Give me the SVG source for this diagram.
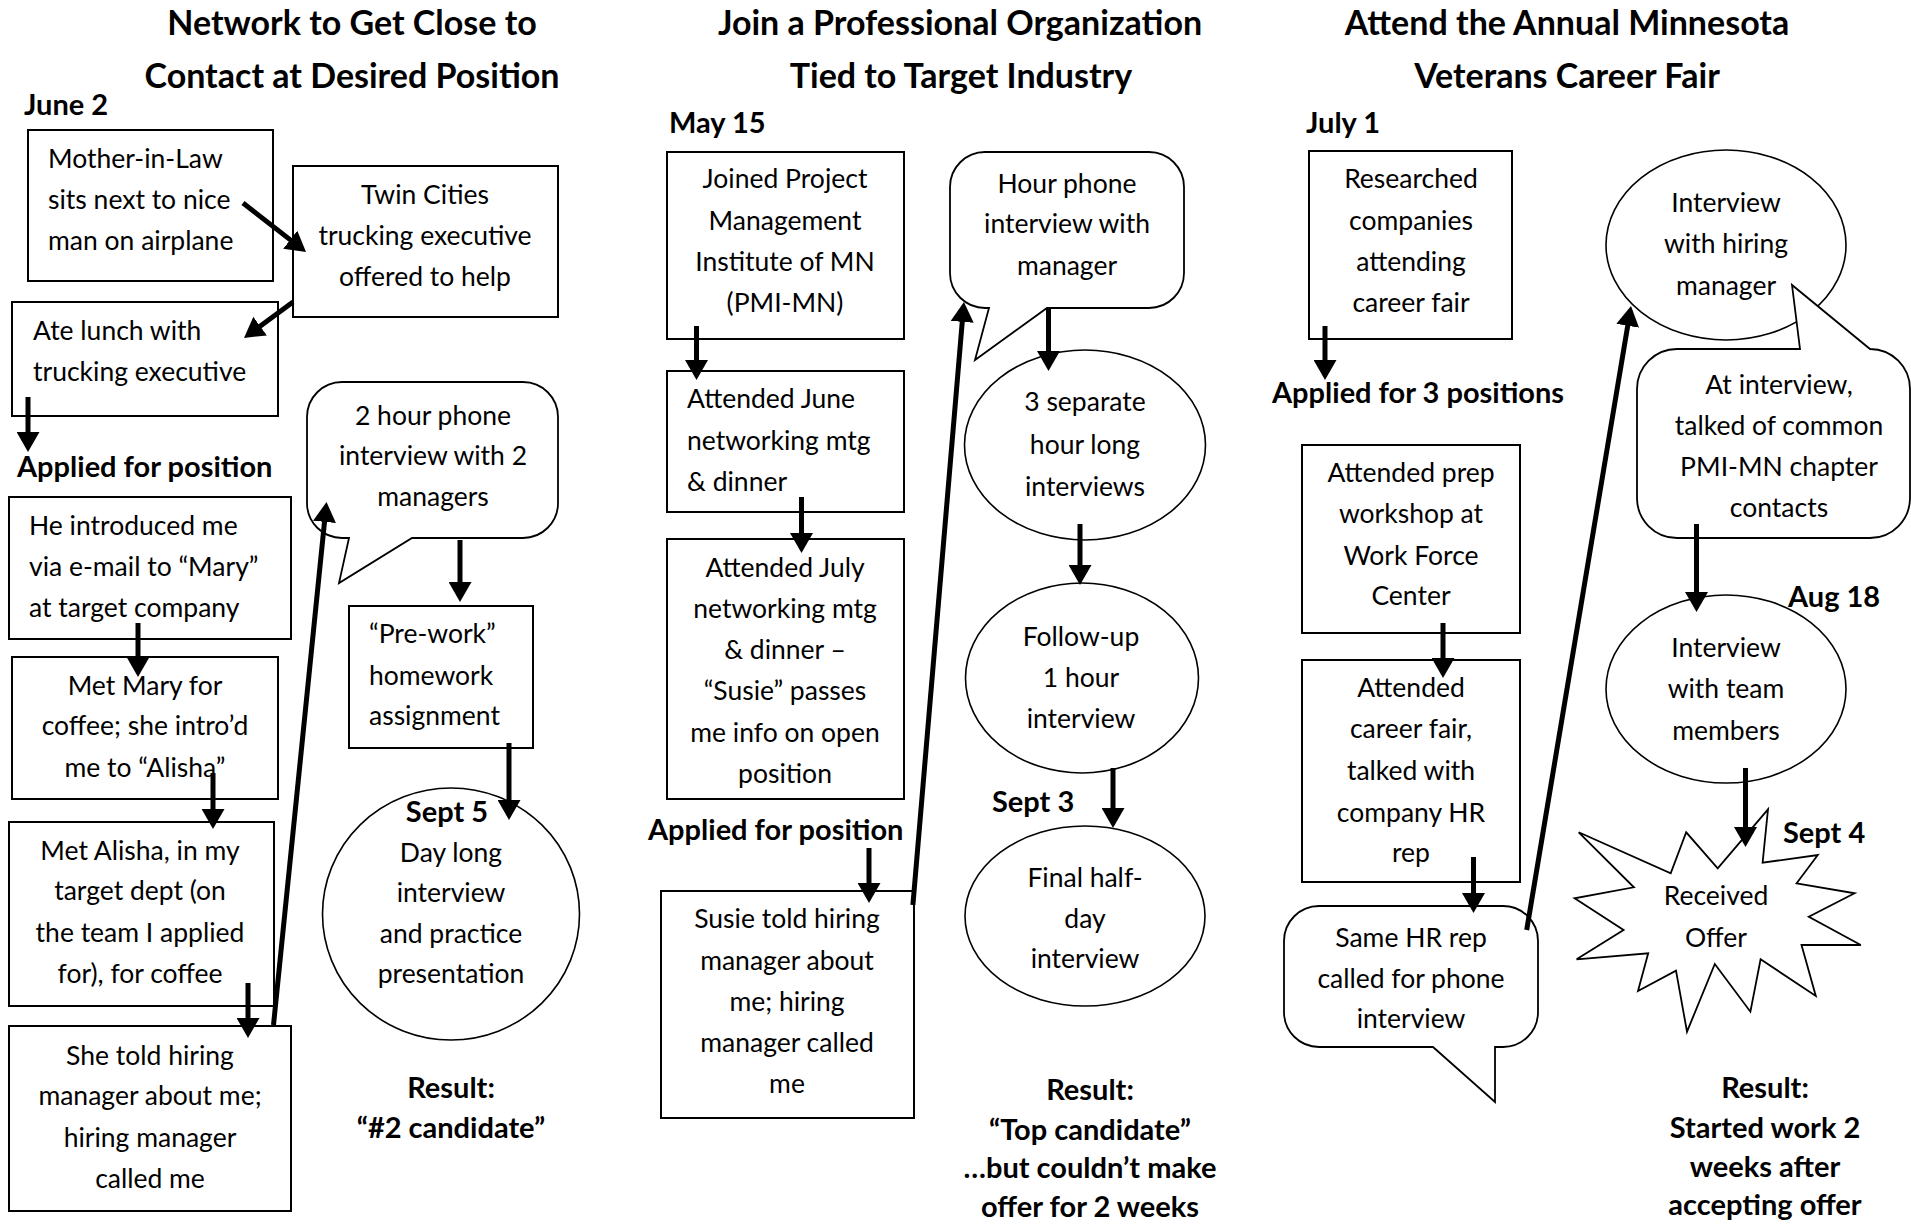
<svg xmlns="http://www.w3.org/2000/svg" width="1911" height="1225" viewBox="0 0 1911 1225">
<defs>
<marker id="ah" markerUnits="userSpaceOnUse" markerWidth="20" markerHeight="23" viewBox="0 0 20 23" refX="3" refY="11.5" orient="auto">
<path d="M0,0 L20,11.5 L0,23 Z" fill="#000"/>
</marker>
<style>
text{font-family:Lato,"Open Sans","Liberation Sans",sans-serif;fill:#000}
.t{font-size:26.5px}
.c{text-anchor:middle}
.h{font-size:34px;font-weight:bold;text-anchor:middle}
.b{font-size:29px;font-weight:bold}
.box{fill:#fff;stroke:#000;stroke-width:2}
.ell{fill:#fff;stroke:#000;stroke-width:1.6}
.co{fill:#fff;stroke:#000;stroke-width:1.8}
.arr{stroke:#000;stroke-width:5;fill:none;marker-end:url(#ah)}
</style>
</defs>
<rect width="1911" height="1225" fill="#fff"/>

<g id="titles">
<text class="h" x="352" y="35">Network to Get Close to</text>
<text class="h" x="352" y="88">Contact at Desired Position</text>
<text class="h" x="960" y="35">Join a Professional Organization</text>
<text class="h" x="961" y="88">Tied to Target Industry</text>
<text class="h" x="1567" y="35">Attend the Annual Minnesota</text>
<text class="h" x="1567" y="88">Veterans Career Fair</text>
</g>

<g id="labels">
<text class="b" x="24" y="115">June 2</text>
<text class="b" x="17" y="477">Applied for position</text>
<text class="b" x="669" y="133">May 15</text>
<text class="b" x="648" y="840">Applied for position</text>
<text class="b" x="992" y="812">Sept 3</text>
<text class="b" x="1306" y="133">July 1</text>
<text class="b" x="1272" y="403">Applied for 3 positions</text>
<text class="b" x="1788" y="607">Aug 18</text>
<text class="b" x="1783" y="843">Sept 4</text>
</g>

<g id="results">
<text class="b c" x="451" y="1098">Result:</text>
<text class="b c" x="451" y="1138">“#2 candidate”</text>
<text class="b c" x="1090" y="1100">Result:</text>
<text class="b c" x="1090" y="1140">“Top candidate”</text>
<text class="b c" x="1090" y="1178">…but couldn’t make</text>
<text class="b c" x="1090" y="1217">offer for 2 weeks</text>
<text class="b c" x="1765" y="1098">Result:</text>
<text class="b c" x="1765" y="1138">Started work 2</text>
<text class="b c" x="1765" y="1177">weeks after</text>
<text class="b c" x="1765" y="1215">accepting offer</text>
</g>

<!-- Left column -->
<g id="n-mil">
<rect class="box" x="28" y="130" width="245" height="151"/>
<text class="t" x="48" y="168">Mother-in-Law</text>
<text class="t" x="48" y="209">sits next to nice</text>
<text class="t" x="48" y="250">man on airplane</text>
</g>
<g id="n-twin">
<rect class="box" x="293" y="166" width="265" height="151"/>
<text class="t c" x="425" y="204">Twin Cities</text>
<text class="t c" x="425" y="245">trucking executive</text>
<text class="t c" x="425" y="286">offered to help</text>
</g>
<g id="n-lunch">
<rect class="box" x="12" y="302" width="266" height="114"/>
<text class="t" x="33" y="340">Ate lunch with</text>
<text class="t" x="33" y="381">trucking executive</text>
</g>
<g id="n-intro">
<rect class="box" x="9" y="497" width="282" height="142"/>
<text class="t" x="29" y="535">He introduced me</text>
<text class="t" x="29" y="576">via e-mail to “Mary”</text>
<text class="t" x="29" y="617">at target company</text>
</g>
<g id="n-mary">
<rect class="box" x="12" y="657" width="266" height="142"/>
<text class="t c" x="145" y="695">Met Mary for</text>
<text class="t c" x="145" y="735">coffee; she intro’d</text>
<text class="t c" x="145" y="777">me to “Alisha”</text>
</g>
<g id="n-alisha">
<rect class="box" x="9" y="822" width="265" height="184"/>
<text class="t c" x="140" y="860">Met Alisha, in my</text>
<text class="t c" x="140" y="900">target dept (on</text>
<text class="t c" x="140" y="942">the team I applied</text>
<text class="t c" x="140" y="983">for), for coffee</text>
</g>
<g id="n-she">
<rect class="box" x="9" y="1026" width="282" height="185"/>
<text class="t c" x="150" y="1065">She told hiring</text>
<text class="t c" x="150" y="1105">manager about me;</text>
<text class="t c" x="150" y="1147">hiring manager</text>
<text class="t c" x="150" y="1188">called me</text>
</g>
<g id="n-phone2">
<path class="co" d="M342,382 H523 A35,35 0 0 1 558,417 V503 A35,35 0 0 1 523,538 H412 L339,583 L349,538 H342 A35,35 0 0 1 307,503 V417 A35,35 0 0 1 342,382 Z"/>
<text class="t c" x="433" y="425">2 hour phone</text>
<text class="t c" x="433" y="465">interview with 2</text>
<text class="t c" x="433" y="506">managers</text>
</g>
<g id="n-prework">
<rect class="box" x="349" y="606" width="184" height="142"/>
<text class="t" x="369" y="643">“Pre-work”</text>
<text class="t" x="369" y="685">homework</text>
<text class="t" x="369" y="725">assignment</text>
</g>
<g id="n-sept5">
<ellipse class="ell" cx="451" cy="914" rx="128.5" ry="126"/>
<text class="b c" x="447" y="822">Sept 5</text>
<text class="t c" x="451" y="862">Day long</text>
<text class="t c" x="451" y="902">interview</text>
<text class="t c" x="451" y="943">and practice</text>
<text class="t c" x="451" y="983">presentation</text>
</g>

<!-- Middle column -->
<g id="n-joined">
<rect class="box" x="667" y="152" width="237" height="187"/>
<text class="t c" x="785" y="188">Joined Project</text>
<text class="t c" x="785" y="230">Management</text>
<text class="t c" x="785" y="271">Institute of MN</text>
<text class="t c" x="785" y="312">(PMI-MN)</text>
</g>
<g id="n-june">
<rect class="box" x="667" y="371" width="237" height="141"/>
<text class="t" x="687" y="408">Attended June</text>
<text class="t" x="687" y="450">networking mtg</text>
<text class="t" x="687" y="491">&amp; dinner</text>
</g>
<g id="n-july">
<rect class="box" x="667" y="539" width="237" height="260"/>
<text class="t c" x="785" y="577">Attended July</text>
<text class="t c" x="785" y="618">networking mtg</text>
<text class="t c" x="785" y="659">&amp; dinner –</text>
<text class="t c" x="785" y="700">“Susie” passes</text>
<text class="t c" x="785" y="742">me info on open</text>
<text class="t c" x="785" y="783">position</text>
</g>
<g id="n-susie">
<rect class="box" x="661" y="891" width="253" height="227"/>
<text class="t c" x="787" y="928">Susie told hiring</text>
<text class="t c" x="787" y="970">manager about</text>
<text class="t c" x="787" y="1011">me; hiring</text>
<text class="t c" x="787" y="1052">manager called</text>
<text class="t c" x="787" y="1093">me</text>
</g>
<g id="n-hourphone">
<path class="co" d="M985,152 H1149 A35,35 0 0 1 1184,187 V273 A35,35 0 0 1 1149,308 H1047 L975,360 L989,308 H985 A35,35 0 0 1 950,273 V187 A35,35 0 0 1 985,152 Z"/>
<text class="t c" x="1067" y="193">Hour phone</text>
<text class="t c" x="1067" y="233">interview with</text>
<text class="t c" x="1067" y="275">manager</text>
</g>
<g id="n-3sep">
<ellipse class="ell" cx="1085" cy="445" rx="120.5" ry="95"/>
<text class="t c" x="1085" y="411">3 separate</text>
<text class="t c" x="1085" y="454">hour long</text>
<text class="t c" x="1085" y="496">interviews</text>
</g>
<g id="n-followup">
<ellipse class="ell" cx="1082" cy="678" rx="116.5" ry="95"/>
<text class="t c" x="1081" y="646">Follow-up</text>
<text class="t c" x="1081" y="687">1 hour</text>
<text class="t c" x="1081" y="728">interview</text>
</g>
<g id="n-final">
<ellipse class="ell" cx="1085" cy="916" rx="120" ry="90"/>
<text class="t c" x="1085" y="887">Final half-</text>
<text class="t c" x="1085" y="928">day</text>
<text class="t c" x="1085" y="968">interview</text>
</g>

<!-- Right column -->
<g id="n-research">
<rect class="box" x="1309" y="151" width="203" height="188"/>
<text class="t c" x="1411" y="188">Researched</text>
<text class="t c" x="1411" y="230">companies</text>
<text class="t c" x="1411" y="271">attending</text>
<text class="t c" x="1411" y="312">career fair</text>
</g>
<g id="n-prep">
<rect class="box" x="1302" y="445" width="218" height="188"/>
<text class="t c" x="1411" y="482">Attended prep</text>
<text class="t c" x="1411" y="523">workshop at</text>
<text class="t c" x="1411" y="565">Work Force</text>
<text class="t c" x="1411" y="605">Center</text>
</g>
<g id="n-fair">
<rect class="box" x="1302" y="660" width="218" height="222"/>
<text class="t c" x="1411" y="697">Attended</text>
<text class="t c" x="1411" y="738">career fair,</text>
<text class="t c" x="1411" y="780">talked with</text>
<text class="t c" x="1411" y="822">company HR</text>
<text class="t c" x="1411" y="862">rep</text>
</g>
<g id="n-samehr">
<path class="co" d="M1319,906 H1503 A35,35 0 0 1 1538,941 V1012 A35,35 0 0 1 1503,1047 H1495 V1102 L1433,1047 H1319 A35,35 0 0 1 1284,1012 V941 A35,35 0 0 1 1319,906 Z"/>
<text class="t c" x="1411" y="947">Same HR rep</text>
<text class="t c" x="1411" y="988">called for phone</text>
<text class="t c" x="1411" y="1028">interview</text>
</g>
<g id="n-hiring">
<ellipse class="ell" cx="1726" cy="245" rx="120" ry="95"/>
<text class="t c" x="1726" y="212">Interview</text>
<text class="t c" x="1726" y="253">with hiring</text>
<text class="t c" x="1726" y="295">manager</text>
</g>
<g id="n-atinterview">
<path class="co" d="M1677,349 H1800 L1792,285 L1870,349 H1870 A40,40 0 0 1 1910,389 V498 A40,40 0 0 1 1870,538 H1677 A40,40 0 0 1 1637,498 V389 A40,40 0 0 1 1677,349 Z"/>
<text class="t c" x="1779" y="394">At interview,</text>
<text class="t c" x="1779" y="435">talked of common</text>
<text class="t c" x="1779" y="476">PMI-MN chapter</text>
<text class="t c" x="1779" y="517">contacts</text>
</g>
<g id="n-team">
<ellipse class="ell" cx="1726" cy="689" rx="120" ry="94"/>
<text class="t c" x="1726" y="657">Interview</text>
<text class="t c" x="1726" y="698">with team</text>
<text class="t c" x="1726" y="740">members</text>
</g>
<g id="n-offer">
<polygon class="co" points="1578.7,832.3 1670.7,873.3 1686.2,832.3 1717.7,868.3 1768,809.3 1762.6,862.7 1817.8,855 1796.6,883.3 1854.6,893.3 1808.8,916.7 1860.8,945 1801.5,945 1815.8,996 1760.6,959.3 1750.4,1011.7 1714.8,964 1687,1031.7 1676,970.7 1638,991 1648.2,953.3 1576.6,959.3 1623.6,930 1574.6,898.3 1633.9,887.3"/>
<text class="t c" x="1716" y="905">Received</text>
<text class="t c" x="1716" y="947">Offer</text>
</g>

<g id="connectors">
<line class="arr" x1="243" y1="203" x2="292.6" y2="241.6"/>
<line class="arr" x1="293" y1="302" x2="257.7" y2="327.9"/>
<line class="arr" x1="28" y1="397" x2="28" y2="435"/>
<line class="arr" x1="138" y1="623" x2="138" y2="660"/>
<line class="arr" x1="213" y1="773" x2="213" y2="812"/>
<line class="arr" x1="248" y1="983" x2="248" y2="1021"/>
<line class="arr" x1="273.5" y1="1025" x2="324.8" y2="518.9"/>
<line class="arr" x1="460" y1="540" x2="460" y2="585"/>
<line class="arr" x1="509" y1="743" x2="509" y2="803"/>
<line class="arr" x1="696.5" y1="326" x2="696.5" y2="363"/>
<line class="arr" x1="801.5" y1="497" x2="801.5" y2="536"/>
<line class="arr" x1="869" y1="848" x2="869" y2="886"/>
<line class="arr" x1="912.9" y1="905" x2="962.5" y2="318.9"/>
<line class="arr" x1="1048.5" y1="309" x2="1048.5" y2="354"/>
<line class="arr" x1="1080" y1="524" x2="1080" y2="568"/>
<line class="arr" x1="1113" y1="768" x2="1113" y2="811"/>
<line class="arr" x1="1325" y1="326" x2="1325" y2="363"/>
<line class="arr" x1="1443" y1="623" x2="1443" y2="661"/>
<line class="arr" x1="1473.5" y1="857" x2="1473.5" y2="896"/>
<line class="arr" x1="1526.7" y1="930" x2="1628.2" y2="322.8"/>
<line class="arr" x1="1696.5" y1="524" x2="1696.5" y2="595"/>
<line class="arr" x1="1745.5" y1="768" x2="1745.5" y2="830"/>
</g>
</svg>
